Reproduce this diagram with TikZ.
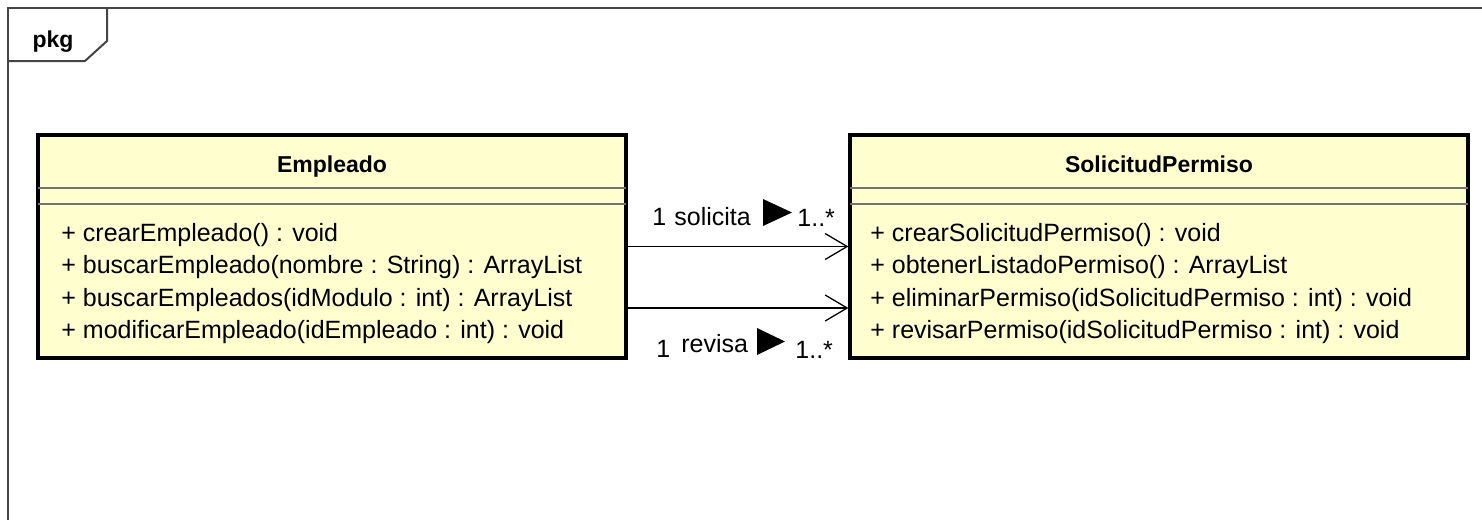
\documentclass[tikz,border=0pt]{standalone}
\usepackage{fontspec}
\setmainfont{Liberation Sans}
\usetikzlibrary{arrows.meta,positioning}
\definecolor{clsfill}{HTML}{FEFECE}
\definecolor{frameln}{HTML}{454545}

\begin{document}
\begin{tikzpicture}[x=0.5pt, y=-0.5pt,
  font=\fontsize{12.5}{15}\selectfont,
  frame/.style={draw=frameln, line width=1pt},
  cls/.style={draw, line width=1.6pt, fill=clsfill, minimum height=111.5pt, inner sep=0pt},
  sepln/.style={draw=black!55, line width=0.6pt, shorten <=0.8pt, shorten >=0.8pt},
  title/.style={font=\fontsize{11.5}{14}\selectfont\bfseries, anchor=base, inner sep=0pt},
  meth/.style={anchor=base west, inner sep=0pt},
  lbl/.style={anchor=base west, inner sep=0pt},
  assoc/.style={-{Straight Barb[length=11pt,width=13pt]}, line width=0.65pt}]
\useasboundingbox[fill=white] (0,0) rectangle (1482,520);
\draw[frame] (1482,8) -- (8,8) -- (8,520);
\draw[frame] (8,61) -- (85,61) -- (107,41) -- (107,8);
\node[title] (pkg) at (53,47) {pkg};
\node[cls, minimum width=294pt] (emp) at (332,246.5) {};
\node[cls, minimum width=309pt] (sol) at (1159,246.5) {};
\foreach \c in {emp,sol} {
  \draw[sepln] (\c.west |- 0,188) -- (\c.east |- 0,188);
  \draw[sepln] (\c.west |- 0,204) -- (\c.east |- 0,204);
}
\node[title] (empname) at (332,172) {Empleado};
\node[title] (solname) at (1159,172) {SolicitudPermiso};
\foreach \m [count=\i] in {+ crearEmpleado() : void,
  + buscarEmpleado(nombre : String) : ArrayList,
  + buscarEmpleados(idModulo : int) : ArrayList,
  + modificarEmpleado(idEmpleado : int) : void}
  \node[meth] (empm\i) at (61,{208.5+32.5*\i}) {\m};
\foreach \m [count=\i] in {+ crearSolicitudPermiso() : void,
  + obtenerListadoPermiso() : ArrayList,
  + eliminarPermiso(idSolicitudPermiso : int) : void,
  + revisarPermiso(idSolicitudPermiso : int) : void}
  \node[meth] (solm\i) at (870,{208.5+32.5*\i}) {\m};
\draw[assoc] (emp.east) -- (sol.west);
\draw[assoc] ([yshift=-30.75pt]emp.east) -- ([yshift=-30.75pt]sol.west);
\node[lbl] (solone) at (652,225) {1};
\node[lbl] (solverb) at (674,225) {solicita};
\node[lbl] (solmany) at (797,226) {1..*};
\fill (763,199) -- (792,212.5) -- (763,226) -- cycle;
\node[lbl] (revone) at (656,357) {1};
\node[lbl] (revverb) at (681,352) {revisa};
\node[lbl] (revmany) at (795,358) {1..*};
\fill (757,328) -- (785,341.5) -- (757,355) -- cycle;
\end{tikzpicture}
\end{document}
